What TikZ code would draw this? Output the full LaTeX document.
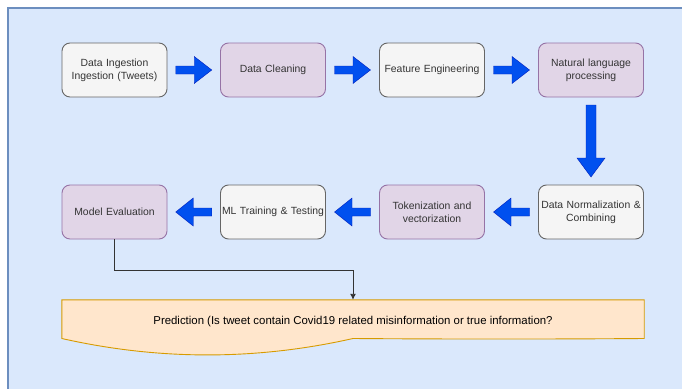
\documentclass[tikz,border=0pt]{standalone}
\usepackage{fontspec}
\setmainfont{Liberation Sans}
\usetikzlibrary{calc,arrows.meta}
\definecolor{bgfill}{HTML}{DAE8FC}
\definecolor{bgline}{HTML}{6C8EBF}
\definecolor{grayfill}{HTML}{F5F5F5}
\definecolor{grayline}{HTML}{666666}
\definecolor{purpfill}{HTML}{E1D5E7}
\definecolor{purpline}{HTML}{9673A6}
\definecolor{predfill}{HTML}{FFE6CC}
\definecolor{predline}{HTML}{D79B00}
\definecolor{arrfill}{HTML}{0050EF}
\definecolor{arrline}{HTML}{001DBC}
\definecolor{txt}{HTML}{333333}
\tikzset{
  box/.style={draw, line width=0.9pt, rounded corners=8pt, minimum width=105pt, minimum height=54pt,
    align=center, text width=103pt, inner sep=0pt, font=\fontsize{10.4}{13}\selectfont, text=txt},
  graybox/.style={box, fill=grayfill, draw=grayline},
  purpbox/.style={box, fill=purpfill, draw=purpline},
  blk/.style={fill=arrfill, draw=arrline, line width=0.4pt},
  conn/.style={draw=txt, line width=0.9pt, -{Latex[length=6pt,width=6pt]}},
}
\begin{document}
\begin{tikzpicture}[x=1pt,y=-1pt]
\useasboundingbox (0,0) rectangle (682,388);
\begin{scope}
\clip (0,0) rectangle (682,388);
\draw[fill=bgfill, draw=bgline, line width=1.2pt] (8,8) rectangle (700,400);
\end{scope}

% row 1
\node[graybox] (di) at (114.5,70) {Data Ingestion\\Ingestion (Tweets)};
\node[purpbox] (dc) at (273,70) {Data Cleaning};
\node[graybox] (fe) at (432,70) {Feature Engineering};
\node[purpbox] (nlp) at (591,70) {Natural language\\processing};
% row 2
\node[purpbox] (me) at (114.5,212) {Model Evaluation};
\node[graybox] (ml) at (273,212) {ML Training \& Testing};
\node[purpbox] (tv) at (432,212) {Tokenization and\\vectorization};
\node[graybox] (dn) at (591,212) {Data Normalization \&\\Combining};

% right block arrows
\foreach \a/\b/\n in {di/dc/r1, dc/fe/r2, fe/nlp/r3}{
  \coordinate (\n) at ($(\a.east)!0.5!(\b.west)$);
  \fill[blk] ([shift={(-18,-4)}]\n) -- ([shift={(0.5,-4)}]\n) -- ([shift={(0.5,-13.5)}]\n)
    -- ([shift={(18,0)}]\n) -- ([shift={(0.5,13.5)}]\n) -- ([shift={(0.5,4)}]\n)
    -- ([shift={(-18,4)}]\n) -- cycle;
}
% left block arrows
\foreach \a/\b/\n in {dn/tv/l1, tv/ml/l2, ml/me/l3}{
  \coordinate (\n) at ($(\a.west)!0.5!(\b.east)$);
  \fill[blk] ([shift={(18,-4)}]\n) -- ([shift={(-0.5,-4)}]\n) -- ([shift={(-0.5,-14)}]\n)
    -- ([shift={(-18,0)}]\n) -- ([shift={(-0.5,14)}]\n) -- ([shift={(-0.5,4)}]\n)
    -- ([shift={(18,4)}]\n) -- cycle;
}
% down block arrow
\coordinate (d1) at ($(nlp.south)!0.5!(dn.north)$);
\fill[blk] ([shift={(-5,-36)}]d1) -- ([shift={(5,-36)}]d1) -- ([shift={(5,17)}]d1)
  -- ([shift={(14,17)}]d1) -- ([shift={(0,36)}]d1) -- ([shift={(-14,17)}]d1)
  -- ([shift={(-5,17)}]d1) -- cycle;

% prediction document shape
\node[minimum width=582pt, minimum height=44pt, inner sep=0pt] (pred) at (353,322) {};
\draw[fill=predfill, draw=predline, line width=0.9pt]
  (pred.north west) -- (pred.north east) -- ([yshift=5.7]pred.south east)
  .. controls ([shift={(-97,-5)}]pred.south east) and ([shift={(-194,-5)}]pred.south east) .. ([yshift=5.7]pred.south)
  .. controls ([shift={(-97,16.2)}]pred.south) and ([shift={(-194,16.2)}]pred.south) .. ([yshift=5.7]pred.south west)
  -- cycle;
\node[font=\fontsize{11.4}{14}\selectfont, text=black] (predtext) at (pred.center) {Prediction (Is tweet contain Covid19 related misinformation or true information?};

% connector
\draw[conn] (me.south) -- ++(0,31) -| (pred.north);
\end{tikzpicture}
\end{document}
